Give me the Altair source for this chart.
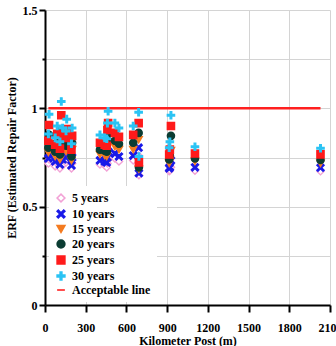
import altair as alt
import pandas as pd

# Kilometer posts where the repair factor was evaluated
kilometer_post = [25, 30, 75, 90, 110, 120, 130, 155, 160, 195, 200,
                  405, 440, 455, 460, 465, 515, 545, 650, 690, 692,
                  915, 920, 928, 1105, 2030]

# Estimated repair factor for each service period
erf_5 = [0.72, 0.74, 0.705, 0.72, 0.695, 0.73, 0.71, 0.725, 0.74, 0.695, 0.72,
         0.715, 0.71, 0.70, 0.72, 0.74, 0.745, 0.73, 0.735, 0.76, 0.66,
         0.68, 0.685, 0.70, 0.683, 0.68]
erf_10 = [0.745, 0.77, 0.73, 0.75, 0.715, 0.76, 0.74, 0.75, 0.77, 0.71, 0.75,
          0.735, 0.73, 0.725, 0.75, 0.78, 0.77, 0.755, 0.76, 0.80, 0.67,
          0.695, 0.70, 0.735, 0.70, 0.698]
erf_15 = [0.775, 0.82, 0.755, 0.79, 0.74, 0.83, 0.78, 0.78, 0.82, 0.735, 0.79,
          0.765, 0.76, 0.755, 0.80, 0.83, 0.805, 0.79, 0.79, 0.84, 0.69,
          0.72, 0.735, 0.785, 0.73, 0.72]
erf_20 = [0.80, 0.865, 0.78, 0.83, 0.765, 0.89, 0.815, 0.81, 0.855, 0.755, 0.825,
          0.79, 0.785, 0.78, 0.84, 0.87, 0.835, 0.82, 0.825, 0.875, 0.70,
          0.74, 0.76, 0.86, 0.745, 0.737]
erf_25 = [0.835, 0.915, 0.815, 0.87, 0.795, 0.965, 0.86, 0.85, 0.895, 0.79, 0.86,
          0.825, 0.815, 0.81, 0.89, 0.925, 0.875, 0.855, 0.865, 0.925, 0.725,
          0.765, 0.79, 0.91, 0.77, 0.766]
erf_30 = [0.87, 0.97, 0.85, 0.91, 0.83, 1.035, 0.90, 0.885, 0.945, 0.82, 0.90,
          0.865, 0.85, 0.845, 0.925, 0.985, 0.925, 0.90, 0.91, 0.98, 0.755,
          0.80, 0.83, 0.965, 0.805, 0.797]

series_names = ["5 years", "10 years", "15 years", "20 years", "25 years", "30 years"]
series_values = [erf_5, erf_10, erf_15, erf_20, erf_25, erf_30]

# Acceptable repair factor threshold
acceptable_name = "Acceptable line"
acceptable_x = [25, 2030]
acceptable_y = [1.0, 1.0]

rows = []
for name, vals in zip(series_names, series_values):
    for kp, v in zip(kilometer_post, vals):
        rows.append({"kp": kp, "erf": v, "series": name})
points_df = pd.DataFrame(rows)
line_df = pd.DataFrame({"kp": acceptable_x, "erf": acceptable_y})

legend_domain = series_names + [acceptable_name]
stroke_colors = ["#f2a2d6", "#1a1ae8", "#f47b20", "#0c3d33", "#ff1a1a", "#2ac3f4", "#ff2020"]
fill_colors = ["#ffffff", "#1a1ae8", "#f47b20", "#0c3d33", "#ff1a1a", "#2ac3f4", "#ff2020"]
x_shape = ("M-1,-0.7L-0.7,-1L0,-0.3L0.7,-1L1,-0.7L0.3,0L1,0.7L0.7,1"
           "L0,0.3L-0.7,1L-1,0.7L-0.3,0Z")
plus_shape = ("M-0.22,-1H0.22V-0.22H1V0.22H0.22V1H-0.22V0.22H-1V-0.22H-0.22Z")
shapes = ["diamond", x_shape, "triangle-down", "circle", "square", plus_shape, "stroke"]

serif = "Liberation Serif"

x_scale = alt.Scale(domain=[0, 2100], nice=False, zero=False)
y_scale = alt.Scale(domain=[0, 1.5], nice=False)

x_axis = alt.Axis(
    values=list(range(0, 2101, 150)),
    labelExpr="datum.value % 300 === 0 ? '' + datum.value : ''",
    labelOverlap=False,
    labelFlush=False,
    tickSize={"condition": {"test": "datum.value % 300 === 0", "value": 7}, "value": 4},
    title="Kilometer Post (m)",
)
y_axis = alt.Axis(
    values=[0, 0.25, 0.5, 0.75, 1.0, 1.25, 1.5],
    labelExpr="datum.value % 0.5 === 0 ? '' + datum.value : ''",
    labelOverlap=False,
    labelFlush=False,
    tickSize={"condition": {"test": "datum.value % 0.5 === 0", "value": 6}, "value": 3},
    title="ERF (Estimated Repair Factor)",
)

legend = alt.Legend(
    title=None,
    orient="none",
    legendX=4,
    legendY=176,
    fillColor="white",
    padding=6,
    symbolSize=60,
    symbolStrokeWidth=1.6,
    labelFont=serif,
    labelFontWeight="bold",
    labelFontSize=12,
    labelColor="black",
    rowPadding=0,
    labelOffset=5,
)

points = alt.Chart(points_df).mark_point(filled=True, size=52, strokeWidth=1.4, opacity=1).encode(
    x=alt.X("kp:Q", scale=x_scale, axis=x_axis),
    y=alt.Y("erf:Q", scale=y_scale, axis=y_axis),
    shape=alt.Shape("series:N", scale=alt.Scale(domain=legend_domain, range=shapes), legend=legend),
    fill=alt.Fill("series:N", scale=alt.Scale(domain=legend_domain, range=fill_colors), legend=legend),
    stroke=alt.Stroke("series:N", scale=alt.Scale(domain=legend_domain, range=stroke_colors), legend=legend),
)

threshold = alt.Chart(line_df).mark_line(color="#ff2020", strokeWidth=2.5).encode(
    x=alt.X("kp:Q", scale=x_scale),
    y=alt.Y("erf:Q", scale=y_scale),
)

chart = alt.layer(threshold, points).properties(
    width=285,
    height=295,
    autosize=alt.AutoSizeParams(type="none"),
    padding={"left": 45, "top": 10, "right": 6, "bottom": 41},
    background="white",
).configure_view(
    stroke=None,
).configure_axis(
    domainColor="black",
    domainWidth=2,
    tickColor="black",
    tickWidth=2,
    gridColor="#d4d4d4",
    gridWidth=1,
    labelFont=serif,
    labelFontWeight="bold",
    labelFontSize=12,
    labelColor="black",
    titleFont=serif,
    titleFontWeight="bold",
    titleFontSize=12,
    titleColor="black",
).configure_axisX(
    labelPadding=10,
    titlePadding=2,
).configure_axisY(
    labelPadding=2,
    titlePadding=4,
)

chart.save("out.html", embed_options={"renderer": "svg", "actions": False})
